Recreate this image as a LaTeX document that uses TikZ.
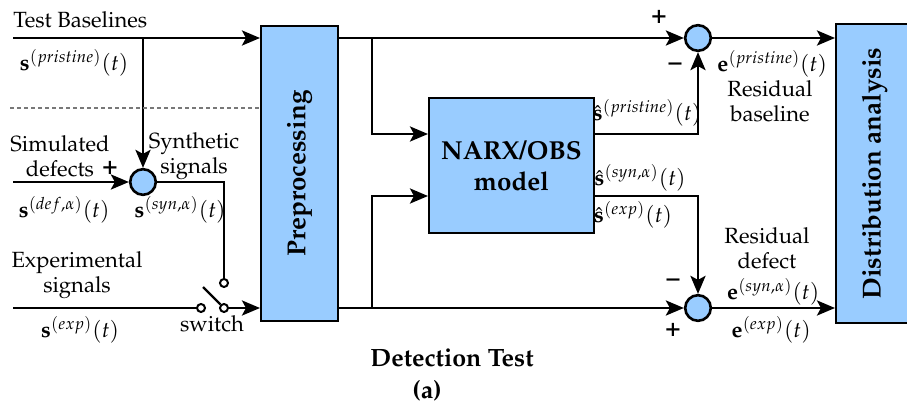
\documentclass[tikz,border=0pt]{standalone}
\usepackage[T1]{fontenc}
\usepackage{mathpazo}
\usepackage{graphicx}
\usepackage{tikz}
\usetikzlibrary{arrows.meta,positioning,calc}
\definecolor{azulcaja}{RGB}{153,204,255}
\definecolor{grisraya}{RGB}{120,120,120}

\begin{document}
\begin{tikzpicture}[
  x=0.5pt, y=-0.5pt,
  every node/.style={font=\fontsize{11}{12.5}\selectfont, inner sep=0pt},
  bloque/.style={
    rectangle, draw=black, line width=1pt,
    fill=azulcaja, align=center,
    font=\fontsize{13}{15.5}\selectfont\bfseries},
  suma/.style={
    circle, draw=black, line width=1.3pt,
    fill=azulcaja, minimum size=12.8pt},
  contacto/.style={
    circle, draw=black, line width=1pt,
    fill=white, minimum size=4pt},
  senal/.style={line width=1.4pt},
  signo/.style={font=\fontsize{13}{13}\selectfont\bfseries},
  >={Stealth[length=9pt,width=7.5pt,inset=2pt]}
]
  \useasboundingbox (0,0) rectangle (907,407);

  %% -- Bloques --------------------------------------------------
  \node[bloque, minimum width=38.5pt, minimum height=147.5pt]
    (pre) at (299.5,173.5) {\rotatebox{90}{Preprocessing}};
  \node[bloque, minimum width=82.5pt, minimum height=67.5pt]
    (narx) at (511.5,165.5) {NARX/OBS\\model};
  \node[bloque, minimum width=38.5pt, minimum height=149.5pt]
    (dist) at (874.5,173.5) {\rotatebox{90}{Distribution analysis}};

  %% -- Sumadores e interruptor ----------------------------------
  \node[suma] (sumS) at (143,182) {};
  \node[suma] (sumP) at (698,38) {};
  \node[suma] (sumD) at (698,308) {};
  \node[contacto] (swA) at (201,308) {};
  \node[contacto] (swC) at (224,308) {};
  \node[contacto] (swB) at (224,283) {};

  \coordinate (tb) at (13,38);
  \coordinate (sd) at (13,182);
  \coordinate (ex) at (13,308);
  \coordinate (trazo) at (10,108);
  \coordinate (palanca) at (203,287);
  \coordinate (rama1) at (372,38);
  \coordinate (rama2) at (372,308);

  %% -- Entradas -------------------------------------------------
  \draw[senal,->] (tb) -- (tb -| pre.west);
  \draw[senal,->] (tb -| sumS) -- (sumS.north);
  \draw[senal,->] (sd) -- (sumS.west);
  \draw[senal] (sumS.east) -| (swB.north);
  \draw[senal] (ex) -- (swA.west);
  \draw[line width=1.1pt] (swC.north west) -- (palanca);
  \draw[senal,->] (swC.east) -- (swC -| pre.west);
  \draw[grisraya, line width=0.7pt, dash pattern=on 2pt off 1.5pt]
    (trazo) -- (trazo -| pre.west);

  %% -- Modelo y residuos ----------------------------------------
  \draw[senal,->] (tb -| pre.east) -- (sumP.west);
  \draw[senal,->] (ex -| pre.east) -- (sumD.west);
  \draw[senal,->] (rama1) |- ([yshift=15.75pt]narx.west);
  \draw[senal,->] (rama2) |- ([yshift=-15.25pt]narx.west);
  \draw[senal,->] ([yshift=15.75pt]narx.east) -| (sumP.south);
  \draw[senal,->] ([yshift=-15.25pt]narx.east) -| (sumD.north);
  \draw[senal,->] (sumP.east) -- (sumP -| dist.west);
  \draw[senal,->] (sumD.east) -- (sumD -| dist.west);

  %% -- Etiquetas izquierda --------------------------------------
  \node[anchor=west] (tbtxt) at (13,20) {Test Baselines};
  \node (spri) at (74,63) {$\mathbf{s}^{(pristine)}(t)$};
  \node[align=center] (simtxt) at (60,156) {Simulated\\defects};
  \node[signo] (masS) at (110,168) {+};
  \node[align=center] (syntxt) at (194,156) {Synthetic\\signals};
  \node (sdef) at (64,210) {$\mathbf{s}^{(def,\alpha)}(t)$};
  \node (ssyn) at (180,210) {$\mathbf{s}^{(syn,\alpha)}(t)$};
  \node[align=center] (exptxt) at (77,275) {Experimental\\signals};
  \node (sexp) at (80,330) {$\mathbf{s}^{(exp)}(t)$};
  \node (swtxt) at (212,324) {switch};

  %% -- Etiquetas derecha ----------------------------------------
  \node[signo] (masP) at (659,17) {+};
  \node[signo] (menP) at (675,67) {--};
  \node (hpri) at (647,113) {$\hat{\mathbf{s}}^{(pristine)}(t)$};
  \node (hsyn) at (640,178) {$\hat{\mathbf{s}}^{(syn,\alpha)}(t)$};
  \node (hexp) at (633,215) {$\hat{\mathbf{s}}^{(exp)}(t)$};
  \node (epri) at (772,64) {$\mathbf{e}^{(pristine)}(t)$};
  \node[align=center] (resB) at (770,101) {Residual\\baseline};
  \node[align=center] (resD) at (767,248) {Residual\\defect};
  \node (esyn) at (773,292) {$\mathbf{e}^{(syn,\alpha)}(t)$};
  \node (eexp) at (771,330) {$\mathbf{e}^{(exp)}(t)$};
  \node[signo] (menD) at (673,283) {--};
  \node[signo] (masD) at (673,330) {+};

  %% -- Titulo ---------------------------------------------------
  \node[font=\fontsize{12.5}{14}\selectfont\bfseries] (titulo) at (452,358) {Detection Test};
  \node[font=\fontsize{12.5}{14}\selectfont\bfseries] (letra) at (427,391) {(a)};
\end{tikzpicture}
\end{document}
